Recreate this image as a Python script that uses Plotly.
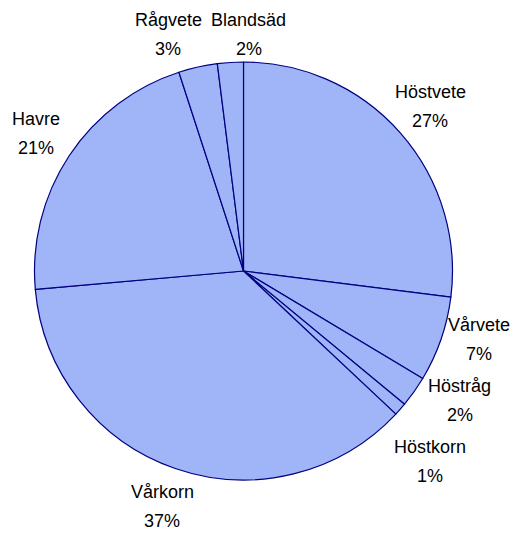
import math
import plotly.graph_objects as go

labels = ["Höstvete", "Vårvete", "Höstråg", "Höstkorn", "Vårkorn", "Havre", "Rågvete", "Blandsäd"]
values = [27.0, 6.6, 2.4, 1.0, 36.6, 21.4, 3.0, 2.0]

W, H = 518, 533
OFF = 8                      # page body margin of the browser
CX, CY, R = 243.5, 271, 209  # pie centre / radius in window pixels
FS = 18
LINE_GAP = 29
BLOCK_H = 48
LABEL_D = R + 40
PAD = 13
TOP_MIN = 11

fig = go.Figure(go.Pie(
    labels=labels,
    values=values,
    sort=False,
    direction="clockwise",
    rotation=0,
    textinfo="none",
    marker=dict(colors=["#a0b4f8"] * len(labels), line=dict(color="#000080", width=1.2)),
    showlegend=False,
    hoverinfo="label+percent",
    domain=dict(
        x=[(CX - OFF - R) / W, (CX - OFF + R) / W],
        y=[1 - (CY - OFF + R) / H, 1 - (CY - OFF - R) / H],
    ),
))

# label layout derived from the slice angles
total = sum(values)
boxes = []
cum = 0.0
for lab, v in zip(labels, values):
    frac = v / total
    mid = (cum + frac / 2) * 2 * math.pi
    cum += frac
    boxes.append([CX + LABEL_D * math.sin(mid), CY - LABEL_D * math.cos(mid), 0.5 * FS * len(lab), BLOCK_H])

n = len(boxes)
for _ in range(200):
    for i in range(n):
        for j in range(i + 1, n):
            bi, bj = boxes[i], boxes[j]
            ox = (bi[2] + bj[2]) / 2 + PAD - abs(bi[0] - bj[0])
            oy = (bi[3] + bj[3]) / 2 + PAD - abs(bi[1] - bj[1])
            if ox > 0 and oy > 0:
                if ox < oy:
                    s = 1 if bi[0] >= bj[0] else -1
                    bi[0] += s * ox / 2
                    bj[0] -= s * ox / 2
                else:
                    s = 1 if bi[1] >= bj[1] else -1
                    bi[1] += s * oy / 2
                    bj[1] -= s * oy / 2
    for b in boxes:
        b[1] = min(max(b[1], TOP_MIN + b[3] / 2), H - 1 - b[3] / 2)
        # keep side label blocks at least LABEL_D away from the centre
        dy = b[1] - CY
        dx = b[0] - CX
        if 0.3 * LABEL_D < abs(dy) < 0.8 * LABEL_D and math.hypot(dx, dy) < LABEL_D:
            b[0] = CX + math.copysign(math.sqrt(LABEL_D ** 2 - dy ** 2), dx)
        b[0] = min(max(b[0], 2 + b[2] / 2), W - 1 - b[2] / 2)

annotations = []
font = dict(family="Liberation Sans, Arial, sans-serif", size=FS, color="black")
for lab, v, b in zip(labels, values, boxes):
    pct = "%d%%" % round(v / total * 100)
    for txt, dy in ((lab, -LINE_GAP / 2), (pct, LINE_GAP / 2)):
        annotations.append(dict(
            x=(b[0] - OFF) / W, y=1 - (b[1] + dy - OFF) / H,
            xref="paper", yref="paper", xanchor="center", yanchor="middle",
            text=txt, showarrow=False, font=font,
        ))

fig.update_layout(
    width=W, height=H,
    margin=dict(l=0, r=0, t=0, b=0),
    paper_bgcolor="white",
    plot_bgcolor="white",
    annotations=annotations,
)

fig.write_html("out.html")
